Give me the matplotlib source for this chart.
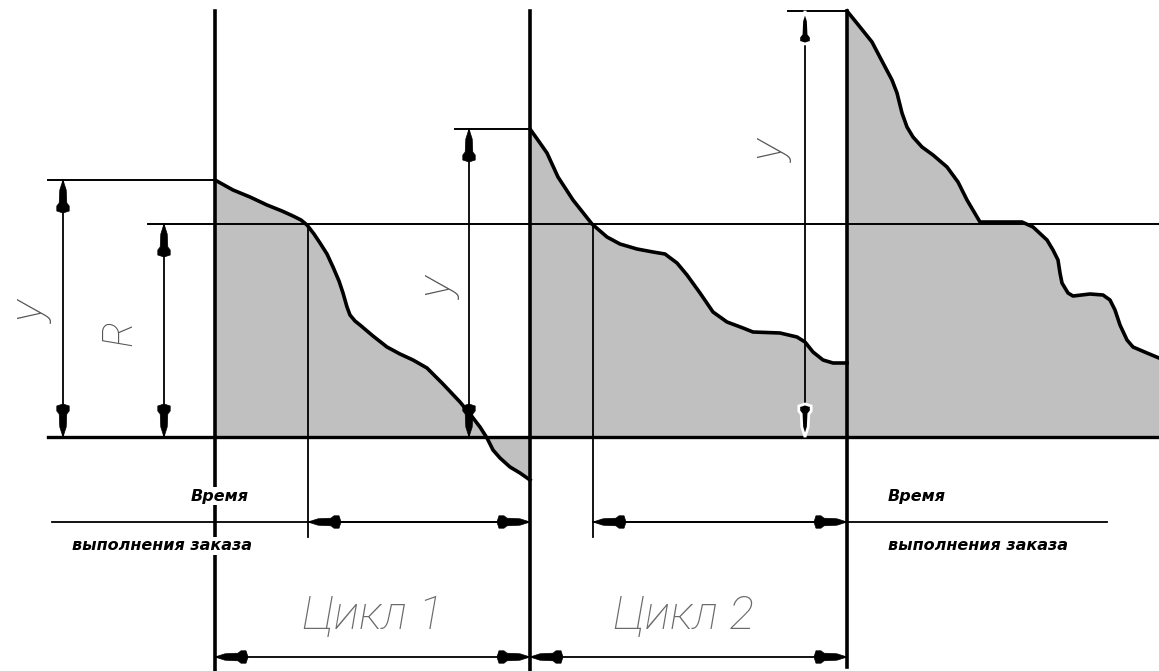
import matplotlib
matplotlib.use('Agg')
import matplotlib.pyplot as plt
from matplotlib.patches import Polygon

# stock level over time, one array pair per cycle (time units = x, level 0 = empty stock)
t1 = [215, 233, 250, 267, 282, 293, 301, 307, 314, 320, 327, 333, 339, 343, 347, 350, 355, 360,
      373, 387, 400, 413, 427, 443, 460, 470, 480, 487, 493, 500, 510, 520, 530]
q1 = [257, 247, 240, 232, 226, 221, 217, 212, 203, 194, 183, 170, 156, 144, 130, 122, 116, 112,
      101, 90, 83, 77, 69, 53, 35, 23, 10, -1, -13, -21, -30, -36, -43]

t2 = [530, 540, 547, 558, 573, 592, 607, 620, 637, 653, 665, 677, 687, 700, 713, 727, 743, 753,
      780, 797, 805, 813, 823, 833, 847]
q2 = [308, 294, 284, 260, 237, 213, 200, 193, 188, 185, 183, 174, 162, 144, 125, 115, 109, 105,
      104, 100, 95, 85, 77, 74, 74]

t3 = [847, 860, 872, 883, 892, 897, 902, 907, 913, 922, 933, 947, 958, 967, 980, 1022, 1033, 1047,
      1053, 1058, 1060, 1062, 1068, 1073, 1090, 1103, 1110, 1115, 1120, 1127, 1133, 1147, 1159]
q3 = [426, 410, 395, 374, 357, 344, 324, 310, 300, 290, 282, 270, 255, 237, 215, 215, 210, 197,
      187, 177, 164, 154, 144, 141, 143, 142, 137, 127, 112, 97, 90, 84, 79]

R = 213                       # reorder point
cycle_starts = [215, 530, 847]
order_times = [308, 593]      # moments the stock falls to R
cycle_labels = ['Цикл 1', 'Цикл 2']
lead_label = ['Время', 'выполнения заказа']

FILL = '#c0c0c0'
TXT = '#555555'


def arrowhead(ax, x, y, dx, dy, edge=None):
    # elongated filled arrowhead, tip at (x, y), pointing along (dx, dy)
    shape = [(0, 0), (10, 3.2), (23, 3.8), (26, 6.2), (31, 6.2), (33, 0),
             (31, -6.2), (26, -6.2), (23, -3.8), (10, -3.2)]
    pts = [(x - u * dx - v * dy, y - u * dy + v * dx) for u, v in shape]
    ax.add_patch(Polygon(pts, closed=True, fc='black',
                         ec=edge if edge else 'black', lw=2 if edge else 0.5, zorder=6))


def dim_v(ax, x, y0, y1, edge=None):
    ax.plot([x, x], [y0, y1], color='black', lw=1.3, zorder=5)
    arrowhead(ax, x, y1, 0, 1, edge)
    arrowhead(ax, x, y0, 0, -1, edge)


def dim_h(ax, x0, x1, y):
    ax.plot([x0, x1], [y, y], color='black', lw=1.3, zorder=5)
    arrowhead(ax, x0, y, -1, 0)
    arrowhead(ax, x1, y, 1, 0)


fig = plt.figure(figsize=(11.59, 6.71), dpi=100)
ax = fig.add_axes([0, 0, 1, 1])
ax.set_xlim(0, 1159)
ax.set_ylim(-234, 437)
ax.axis('off')

for t, q in [(t1, q1), (t2, q2), (t3, q3)]:
    ax.fill_between(t, q, 0, color=FILL, lw=0, zorder=1)
    ax.plot(t, q, color='black', lw=2.6, zorder=4, solid_joinstyle='round')

bottom = -234
lead_y = -85
cycle_y = -220

# zero line and reorder level
ax.plot([48, 1159], [0, 0], color='black', lw=2.4, zorder=3)
ax.plot([148, 1159], [R, R], color='black', lw=1.4, zorder=3)

# cycle boundaries
for i, x in enumerate(cycle_starts):
    ax.plot([x, x], [426, bottom if i < 2 else -230], color='black', lw=2.6, zorder=3)

# order moments
for x in order_times:
    ax.plot([x, x], [R, -100], color='black', lw=1.3, zorder=3)

# max stock levels at the start of each cycle
starts = [q1[0], q2[0], q3[0]]
ext_left = [48, 455, 788]
dim_x = [63, 469, 805]
for i in range(3):
    ax.plot([ext_left[i], cycle_starts[i]], [starts[i], starts[i]], color='black', lw=1.4, zorder=3)
    dim_v(ax, dim_x[i], 0, starts[i], edge='white' if i == 2 else None)

dim_v(ax, 164, 0, R)

# rotated letters
kw = dict(rotation=90, ha='center', va='center', color=TXT, style='italic',
          family=['Roboto', 'DejaVu Sans'], fontweight='light', zorder=7)
ax.text(32, 437 - 312, 'y', fontsize=34, **kw)
ax.text(120, 437 - 333, 'R', fontsize=30, **kw)
ax.text(440, 437 - 288, 'y', fontsize=34, **kw)
ax.text(772, 437 - 151, 'y', fontsize=34, **kw)

# lead time dimensions
ax.plot([52, cycle_starts[1]], [lead_y, lead_y], color='black', lw=1.3, zorder=5)
dim_h(ax, order_times[0], cycle_starts[1], lead_y)
ax.plot([order_times[1], 1107], [lead_y, lead_y], color='black', lw=1.3, zorder=5)
dim_h(ax, order_times[1], cycle_starts[2], lead_y)

lab = dict(color='black', style='italic', fontweight='bold', fontsize=11.5,
           family=['DejaVu Sans'], va='center', zorder=7,
           bbox=dict(fc='white', ec='none', pad=1))
ax.text(220, 437 - 496, lead_label[0], ha='center', **lab)
ax.text(162, 437 - 546, lead_label[1], ha='center', **lab)
ax.text(888, 437 - 496, lead_label[0], ha='left', **lab)
ax.text(888, 437 - 546, lead_label[1], ha='left', **lab)

# cycle dimensions
label_x = [373, 684]
for i in range(2):
    dim_h(ax, cycle_starts[i], cycle_starts[i + 1], cycle_y)
    ax.text(label_x[i], 437 - 616, cycle_labels[i], ha='center', va='center', fontsize=34,
            color='#6a6a6a', style='italic', family=['Roboto', 'DejaVu Sans'],
            fontweight='light', zorder=7)

fig.savefig('out.png', dpi=100, facecolor='white')
